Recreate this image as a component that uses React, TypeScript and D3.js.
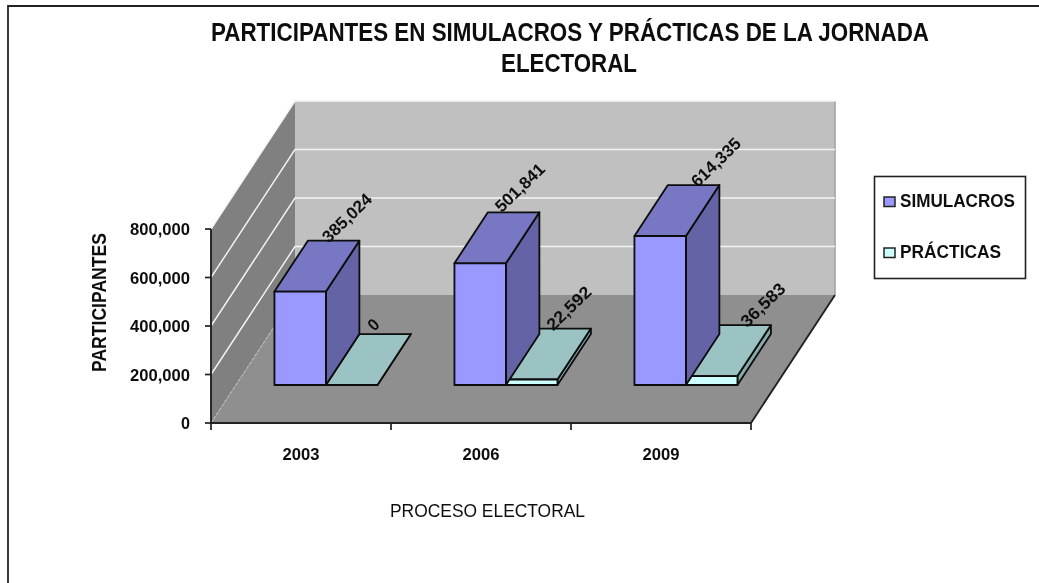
import React from 'react';
import * as d3 from 'd3';

const years = ['2003', '2006', '2009'];
const simulacros = [385024, 501841, 614335];
const practicas = [0, 22592, 36583];
const yTicks = [0, 200000, 400000, 600000, 800000];
const seriesNames = ['SIMULACROS', 'PRÁCTICAS'];

// layout nudges for the rotated value labels (start of text relative to back-top centre of the bar)
const simNudge = [[-5, 3], [-12, 1], [4, 3]];
const pracNudge = [[-11, -2], [-12, 3], [2, 3]];

const faces = [
  { front: '#9999ff', top: '#7777c4', side: '#6464a6' },
  { front: '#ccffff', top: '#9bc3c3', side: '#84aaaa' },
];

const x0 = d3.scaleBand<string>().domain(years).range([211, 751]);
const xS = d3.scaleBand<string>().domain(seriesNames).range([38.5, 141.5]);
const yH = d3.scaleLinear().domain([0, 800000]).range([0, 194]);
const floorY = 423;
const dx = d3.scaleLinear().domain([0, 1]).range([0, 84]);
const dy = d3.scaleLinear().domain([0, 1]).range([0, -128]);
const D0 = 0.297, D1 = 0.695;

const P = (x: number, d: number, v: number): [number, number] => [x + dx(d), floorY + dy(d) - yH(v)];
const path = (pts: [number, number][]) => (d3.line()(pts) as string) + 'Z';

const fmt = d3.format(',');
const font = '"Liberation Sans", Arial, sans-serif';
const axL = x0.range()[0], axR = x0.range()[1];

function Bar({ x, w, v, c }: { x: number; w: number; v: number; c: typeof faces[0] }) {
  const s = { stroke: '#0a0a0a', strokeWidth: 1.8, strokeLinejoin: 'round' as const };
  return (
    <g>
      <path d={path([P(x + w, D0, 0), P(x + w, D1, 0), P(x + w, D1, v), P(x + w, D0, v)])} fill={c.side} {...s} />
      <path d={path([P(x, D0, v), P(x + w, D0, v), P(x + w, D1, v), P(x, D1, v)])} fill={c.top} {...s} />
      <path d={path([P(x, D0, 0), P(x + w, D0, 0), P(x + w, D0, v), P(x, D0, v)])} fill={c.front} {...s} />
    </g>
  );
}

function ValueLabel({ x, w, v, n, len }: { x: number; w: number; v: number; n: number[]; len: number }) {
  const [px, py] = P(x + w / 2, D1, v);
  return (
    <text transform={`translate(${px + n[0]},${py + n[1]}) rotate(-44)`} fontFamily={font} fontWeight="bold" fontSize={17}
      textLength={len} lengthAdjust="spacingAndGlyphs" fill="#111">{fmt(v)}</text>
  );
}

export default function App() {
  const w = xS.bandwidth();
  const max = yTicks[yTicks.length - 1];
  return (
    <svg width={1039} height={583} viewBox="0 0 1039 583" style={{ position: 'absolute', left: 0, top: 0, display: 'block', background: '#fff' }}>
      <defs>
        <filter id="soft" x="-2%" y="-2%" width="104%" height="104%"><feGaussianBlur stdDeviation="0.45" /></filter>
      </defs>
      <g filter="url(#soft)">
        <path d="M1039 6H8V583" fill="none" stroke="#222" strokeWidth={1.8} />

        {/* walls and floor */}
        <path d={path([P(axL, 1, 0), P(axR, 1, 0), P(axR, 1, max), P(axL, 1, max)])} fill="#c0c0c0" />
        <path d={path([P(axL, 0, 0), P(axL, 1, 0), P(axL, 1, max), P(axL, 0, max)])} fill="#808080" />
        <path d={path([P(axL, 0, 0), P(axR, 0, 0), P(axR, 1, 0), P(axL, 1, 0)])} fill="#8f8f8f" />
        <line x1={P(axR, 1, 0)[0]} y1={P(axR, 1, 0)[1]} x2={P(axR, 1, max)[0]} y2={P(axR, 1, max)[1]} stroke="#a0a0a0" strokeWidth={1.5} />
        <line x1={P(axL, 0, 0)[0]} y1={P(axL, 0, 0)[1]} x2={P(axL, 1, 0)[0]} y2={P(axL, 1, 0)[1]} stroke="#c8c8c8" strokeWidth={1} strokeDasharray="3 2" />
        {yTicks.slice(1).map(t => (
          <path key={t} d={d3.line()([P(axL, 0, t), P(axL, 1, t), P(axR, 1, t)]) as string} fill="none" stroke="#f4f4f4" strokeWidth={1.4} />
        ))}

        {/* axes */}
        <path d={d3.line()([P(axL, 0, max), P(axL, 0, 0), P(axR, 0, 0), P(axR, 1, 0)]) as string} fill="none" stroke="#222" strokeWidth={1.9} />
        {yTicks.map(t => {
          const [px, py] = P(axL, 0, t);
          return (
            <g key={t}>
              <line x1={px - 6} x2={px} y1={py} y2={py} stroke="#222" strokeWidth={1.7} />
              <text x={190} y={py + 6} textAnchor="end" fontFamily={font} fontWeight="bold" fontSize={17}
                textLength={t === 0 ? 9 : 60} lengthAdjust="spacingAndGlyphs" fill="#111">{fmt(t)}</text>
            </g>
          );
        })}
        {[axL, ...years.map(y => (x0(y) as number) + x0.bandwidth())].map(x => (
          <line key={x} x1={x} x2={x} y1={floorY} y2={floorY + 7} stroke="#222" strokeWidth={1.7} />
        ))}
        {years.map(y => (
          <text key={y} x={(x0(y) as number) + x0.bandwidth() / 2} y={460} textAnchor="middle" fontFamily={font} fontWeight="bold" fontSize={17}
            textLength={37} lengthAdjust="spacingAndGlyphs" fill="#111">{y}</text>
        ))}

        {/* bars */}
        {years.map((y, i) => {
          const xa = (x0(y) as number) + (xS(seriesNames[0]) as number);
          const xb = (x0(y) as number) + (xS(seriesNames[1]) as number);
          return (
            <g key={y}>
              <Bar x={xb} w={w} v={practicas[i]} c={faces[1]} />
              <Bar x={xa} w={w} v={simulacros[i]} c={faces[0]} />
            </g>
          );
        })}
        {years.map((y, i) => {
          const xa = (x0(y) as number) + (xS(seriesNames[0]) as number);
          const xb = (x0(y) as number) + (xS(seriesNames[1]) as number);
          return (
            <g key={y}>
              <ValueLabel x={xa} w={w} v={simulacros[i]} n={simNudge[i]} len={62} />
              <ValueLabel x={xb} w={w} v={practicas[i]} n={pracNudge[i]} len={practicas[i] === 0 ? 9 : 55} />
            </g>
          );
        })}

        {/* titles */}
        <text x={570} y={41} textAnchor="middle" fontFamily={font} fontWeight="bold" fontSize={25} textLength={718} lengthAdjust="spacingAndGlyphs" fill="#111">PARTICIPANTES EN SIMULACROS Y PRÁCTICAS DE LA JORNADA</text>
        <text x={569} y={72} textAnchor="middle" fontFamily={font} fontWeight="bold" fontSize={25} textLength={136} lengthAdjust="spacingAndGlyphs" fill="#111">ELECTORAL</text>
        <text transform="translate(106,372) rotate(-90)" fontFamily={font} fontWeight="bold" fontSize={20} textLength={139} lengthAdjust="spacingAndGlyphs" fill="#111">PARTICIPANTES</text>
        <text x={390} y={517} fontFamily={font} fontSize={19} textLength={195} lengthAdjust="spacingAndGlyphs" fill="#111">PROCESO ELECTORAL</text>

        {/* legend */}
        <rect x={874.5} y={176.5} width={151} height={102} fill="#fff" stroke="#222" strokeWidth={1.6} />
        {seriesNames.map((n, i) => (
          <g key={n}>
            <rect x={884} y={197 + i * 51} width={11} height={9.5} fill={faces[i].front} stroke="#222" strokeWidth={1.5} />
            <text x={900} y={207 + i * 51} fontFamily={font} fontWeight="bold" fontSize={18}
              textLength={i === 0 ? 115 : 101} lengthAdjust="spacingAndGlyphs" fill="#111">{n}</text>
          </g>
        ))}
      </g>
    </svg>
  );
}
